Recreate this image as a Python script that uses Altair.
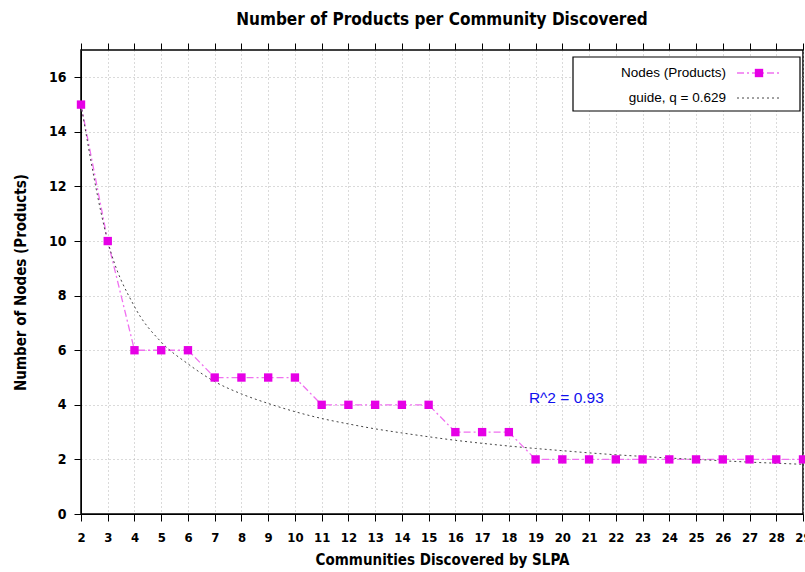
import altair as alt
import pandas as pd

# Communities discovered by SLPA and products (nodes) per community
communities = list(range(2, 30))
nodes = [15, 10, 6, 6, 6, 5, 5, 5, 5, 4, 4, 4, 4, 4, 3, 3, 3,
         2, 2, 2, 2, 2, 2, 2, 2, 2, 2, 2]
# fitted guide curve (q = 0.629)
guide = [15.0, 10.0, 7.6, 6.3, 5.5, 4.85, 4.4, 4.05, 3.75, 3.5, 3.3, 3.12,
         2.97, 2.83, 2.7, 2.59, 2.49, 2.4, 2.32, 2.24, 2.17, 2.11, 2.05,
         2.0, 1.95, 1.9, 1.86, 1.82]

x_ticks = list(range(2, 30))
y_ticks = list(range(0, 17, 2))

FONT = "Liberation Sans Narrow, DejaVu Sans Condensed, Arial Narrow, sans-serif"
LEG_FONT = "Liberation Sans, Arial, Helvetica, sans-serif"
MAGENTA = "#e600e6"
LINE_PINK = "#f070f0"
GRID = "#b4b4b4"

df = pd.DataFrame({"c": communities, "n": nodes, "g": guide})

x_scale = alt.Scale(domain=[2, 29], nice=False, zero=False)
y_scale = alt.Scale(domain=[0, 17], nice=False)

y_axis = alt.Axis(values=y_ticks, title="Number of Nodes (Products)",
                  grid=True, gridDash=[1, 3], gridColor=GRID,
                  tickSize=7, tickColor="black", domainColor="black",
                  labelFont=FONT, labelFontSize=14, labelFontWeight="bold",
                  labelColor="black", labelPadding=8,
                  titleFont=FONT, titleFontSize=15, titleFontWeight="bold",
                  titleColor="black", titlePadding=20)


def y_enc(field):
    return alt.Y(f"{field}:Q", scale=y_scale, axis=y_axis)


def x_plain():
    return alt.X("c:Q", scale=x_scale, axis=None)


x_bottom = alt.X(
    "c:Q", scale=x_scale,
    axis=alt.Axis(values=x_ticks, title="Communities Discovered by SLPA",
                  grid=True, gridDash=[1, 3], gridColor=GRID,
                  tickSize=7, tickColor="black", domainColor="black",
                  labelFont=FONT, labelFontSize=13, labelFontWeight="bold",
                  labelColor="black", labelPadding=10,
                  titleFont=FONT, titleFontSize=15, titleFontWeight="bold",
                  titleColor="black", titlePadding=8, labelFlush=False),
)

base = alt.Chart(df)

guide_line = base.mark_line(
    color="#444444", strokeDash=[2, 3], strokeWidth=1, interpolate="monotone"
).encode(x=x_plain(), y=y_enc("g"))

nodes_line = base.mark_line(
    color=LINE_PINK, strokeDash=[7, 3, 2, 3], strokeWidth=1.3
).encode(x=x_bottom, y=y_enc("n"))

nodes_pts = base.mark_point(
    shape="square", filled=True, color=MAGENTA, size=70, opacity=1
).encode(x=x_plain(), y=y_enc("n"))

# mirrored ticks along the top border
top_ticks = base.mark_point(opacity=0).encode(
    x=alt.X("c:Q", scale=x_scale,
            axis=alt.Axis(orient="top", values=x_ticks, labels=False,
                          title=None, grid=False, domain=False,
                          tickSize=7, tickColor="black")),
    y=y_enc("n"),
)

r2 = alt.Chart(pd.DataFrame({"c": [18.75], "n": [4.25], "t": ["R^2 = 0.93"]})).mark_text(
    align="left", baseline="middle", color="#1010ee", fontSize=15.5,
    font=LEG_FONT
).encode(x=x_plain(), y=y_enc("n"), text="t:N")

# legend box drawn inside the plot area
one = alt.Data(values=[{}])
leg_box = alt.Chart(one).mark_rect(
    fill="white", stroke="black", strokeWidth=1.2
).encode(x=alt.value(492), x2=alt.value(719), y=alt.value(7), y2=alt.value(61))
leg_t1 = alt.Chart(one).mark_text(
    align="right", baseline="middle", fontSize=13.5, font=LEG_FONT, color="black"
).encode(x=alt.value(645), y=alt.value(23), text=alt.value("Nodes (Products)"))
leg_t2 = alt.Chart(one).mark_text(
    align="right", baseline="middle", fontSize=13.5, font=LEG_FONT, color="black"
).encode(x=alt.value(645), y=alt.value(48), text=alt.value("guide, q = 0.629"))
leg_l1 = alt.Chart(one).mark_rule(
    color=LINE_PINK, strokeDash=[7, 3, 2, 3], strokeWidth=1.3
).encode(x=alt.value(656), x2=alt.value(700), y=alt.value(23))
leg_p1 = alt.Chart(one).mark_point(
    shape="square", filled=True, color=MAGENTA, size=70, opacity=1
).encode(x=alt.value(678), y=alt.value(23))
leg_l2 = alt.Chart(one).mark_rule(
    color="#444444", strokeDash=[2, 3], strokeWidth=1
).encode(x=alt.value(656), x2=alt.value(700), y=alt.value(48))

chart = alt.layer(
    nodes_line, top_ticks, guide_line, nodes_pts, r2,
    leg_box, leg_t1, leg_t2, leg_l1, leg_p1, leg_l2
).resolve_axis(x="independent").properties(
    width=722, height=464,
    autosize=alt.AutoSizeParams(type="none"),
    padding={"left": 81, "top": 50, "right": 2, "bottom": 58},
    title=alt.Title("Number of Products per Community Discovered",
                    font=FONT, fontSize=17, fontWeight="bold", color="black",
                    anchor="middle", offset=14),
    background="white",
).configure_view(stroke="black", strokeWidth=1.5)

chart.save("out.html", embed_options={"renderer": "svg", "actions": False})
